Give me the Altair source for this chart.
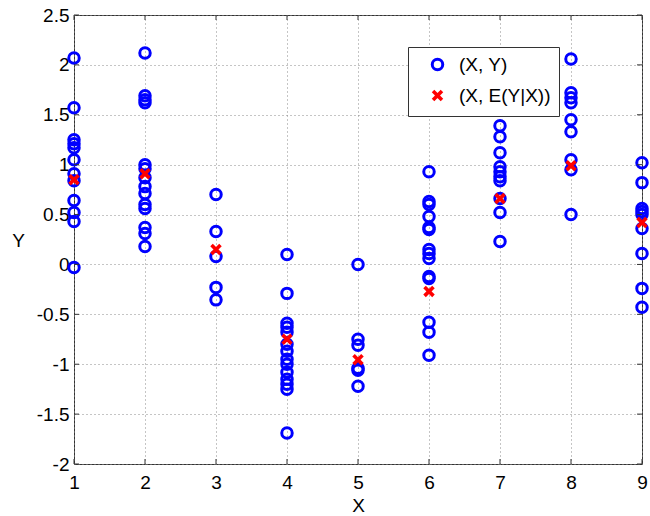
import altair as alt
import pandas as pd

x_values = [1, 2, 3, 4, 5, 6, 7, 8, 9]
y_at_1 = [2.07, 1.57, 1.25, 1.21, 1.17, 1.05, 0.91, 0.84, 0.64, 0.52, 0.43, -0.03]
y_at_2 = [2.12, 1.69, 1.65, 1.62, 1.0, 0.96, 0.87, 0.78, 0.71, 0.6, 0.56, 0.37, 0.31, 0.18]
y_at_3 = [0.70, 0.33, 0.08, -0.23, -0.355]
y_at_4 = [0.10, -0.29, -0.59, -0.63, -0.68, -0.8, -0.87, -0.95, -1.0, -1.08, -1.15, -1.2, -1.25, -1.69]
y_at_5 = [0.0, -0.75, -0.81, -1.04, -1.06, -1.22]
y_at_6 = [0.93, 0.63, 0.6, 0.48, 0.37, 0.35, 0.15, 0.11, 0.06, -0.12, -0.14, -0.58, -0.68, -0.91]
y_at_7 = [1.39, 1.28, 1.12, 0.98, 0.93, 0.88, 0.84, 0.66, 0.52, 0.23]
y_at_8 = [2.06, 1.72, 1.67, 1.62, 1.45, 1.33, 1.05, 0.95, 0.5]
y_at_9 = [1.02, 0.82, 0.56, 0.53, 0.5, 0.36, 0.11, -0.24, -0.43]

# Conditional expectation E(Y|X)
e_y_given_x = [0.85, 0.91, 0.15, -0.75, -0.955, -0.27, 0.66, 0.99, 0.42]

series_names = ["(X, Y)", "(X, E(Y|X))"]
x_ticks = [1, 2, 3, 4, 5, 6, 7, 8, 9]
y_ticks = [-2, -1.5, -1, -0.5, 0, 0.5, 1, 1.5, 2, 2.5]

samples = [y_at_1, y_at_2, y_at_3, y_at_4, y_at_5, y_at_6, y_at_7, y_at_8, y_at_9]
rows = []
for xv, ys in zip(x_values, samples):
    for yv in ys:
        rows.append({"X": xv, "Y": yv, "series": series_names[0]})
for xv, ev in zip(x_values, e_y_given_x):
    rows.append({"X": xv, "Y": ev, "series": series_names[1]})
df = pd.DataFrame(rows)
df["order"] = range(len(df))

W, H = 568, 449
XPATH = "M-1,-1L1,1M-1,1L1,-1"
FONT = "Liberation Sans"
FS = 19

x_scale = alt.Scale(domain=[1, 9], nice=False, zero=False)
y_scale = alt.Scale(domain=[-2, 2.5], nice=False, zero=False)

points = alt.Chart(df).mark_point(filled=False, clip=False, opacity=1).encode(
    x=alt.X("X:Q", scale=x_scale,
            axis=alt.Axis(values=x_ticks, title="X", ticks=False, domain=False,
                          grid=True, gridDash=[1, 3], gridColor="#8a8a8a",
                          labelExpr="'' + datum.value", labelFlush=False,
                          labelFontSize=FS, labelFont=FONT, labelPadding=9,
                          labelColor="#000", titleFont=FONT, titleFontSize=FS,
                          titleFontWeight="normal", titleY=41, titleBaseline="middle",
                          titleColor="#000")),
    y=alt.Y("Y:Q", scale=y_scale,
            axis=alt.Axis(values=y_ticks, title="Y", ticks=False, domain=False,
                          grid=True, gridDash=[1, 3], gridColor="#8a8a8a",
                          labelExpr="'' + datum.value", labelFlush=False,
                          labelFontSize=FS, labelFont=FONT, labelPadding=5,
                          labelColor="#000", titleFont=FONT, titleFontSize=FS,
                          titleFontWeight="normal", titleAngle=0, titleX=-56, titleY=225,
                          titleAlign="center", titleBaseline="middle",
                          titleColor="#000")),
    color=alt.Color("series:N",
                    scale=alt.Scale(domain=series_names, range=["#0000ff", "#ff0000"]),
                    legend=alt.Legend(title=None, orient="none", legendX=334, legendY=32,
                                      labelFont=FONT, labelFontSize=FS, labelColor="#000",
                                      strokeColor="#333", fillColor="#ffffff", padding=8,
                                      cornerRadius=0, symbolSize=110, symbolStrokeWidth=3,
                                      symbolOffset=12, rowPadding=7, labelOffset=12,
                                      offset=0)),
    shape=alt.Shape("series:N",
                    scale=alt.Scale(domain=series_names, range=["circle", XPATH])),
    size=alt.Size("series:N", scale=alt.Scale(domain=series_names, range=[110, 80]),
                  legend=None),
    strokeWidth=alt.StrokeWidth("series:N",
                                scale=alt.Scale(domain=series_names, range=[3, 3.6]),
                                legend=None),
    order=alt.Order("order:Q"),
)

tick_len = 5
ydf = pd.DataFrame({"t": y_ticks})
xdf = pd.DataFrame({"t": x_ticks})
left_ticks = alt.Chart(ydf).mark_rule(color="#333", strokeWidth=1).encode(
    y=alt.Y("t:Q", scale=y_scale), x=alt.value(0), x2=alt.value(tick_len))
right_ticks = alt.Chart(ydf).mark_rule(color="#333", strokeWidth=1).encode(
    y=alt.Y("t:Q", scale=y_scale), x=alt.value(W - tick_len), x2=alt.value(W))
bottom_ticks = alt.Chart(xdf).mark_rule(color="#333", strokeWidth=1).encode(
    x=alt.X("t:Q", scale=x_scale), y=alt.value(H - tick_len), y2=alt.value(H))
top_ticks = alt.Chart(xdf).mark_rule(color="#333", strokeWidth=1).encode(
    x=alt.X("t:Q", scale=x_scale), y=alt.value(0), y2=alt.value(tick_len))

chart = alt.layer(points, left_ticks, right_ticks, bottom_ticks, top_ticks).properties(
    width=W, height=H,
    autosize=alt.AutoSizeParams(type="none"),
    padding={"left": 74, "top": 15, "right": 8, "bottom": 52},
    background="#ffffff",
).configure_view(stroke="#333", strokeWidth=1)

chart.save("out.html", embed_options={"renderer": "svg", "actions": False})
